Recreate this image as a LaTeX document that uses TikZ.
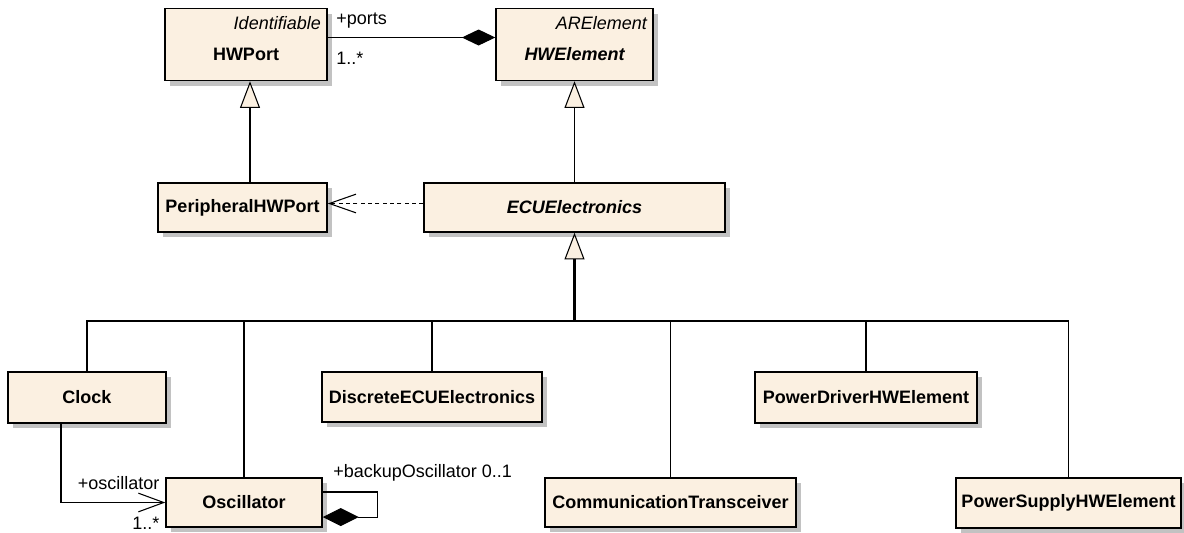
\documentclass[tikz,border=0pt]{standalone}
\usepackage{fontspec}
\setmainfont{Liberation Sans}
\usetikzlibrary{positioning, arrows.meta, shadows}

\definecolor{classfill}{HTML}{FBF0E1}

\begin{document}
\begin{tikzpicture}[
  x=0.75pt, y=-0.75pt,
  font=\fontsize{13.5}{15}\selectfont,
  classbox/.style={draw=black, line width=1.1pt, fill=classfill, inner sep=3pt,
    font=\fontsize{13.5}{15}\selectfont\bfseries,
    drop shadow={shadow xshift=3.75pt, shadow yshift=-3.75pt, fill=black!24, opacity=1}},
  withstereo/.style={text height=24pt, text depth=0pt},
  stereo/.style={anchor=north east, font=\fontsize{13.5}{15}\selectfont\itshape,
    inner xsep=5pt, inner ysep=6pt},
  role/.style={font=\fontsize{13.5}{15}\selectfont, inner sep=2pt},
  tree/.style={draw=black, line width=0.8pt},
  generalize/.style={tree, -{Triangle[length=20pt, width=15pt, fill=classfill, line width=0.8pt]}},
  compose/.style={tree, {Diamond[length=25pt, width=12pt]}-},
  navigate/.style={tree, -{Straight Barb[length=19pt, width=14pt]}},
  depend/.style={tree, dash pattern=on 3pt off 2.5pt, -{Straight Barb[length=20pt, width=14pt]}}
]
\useasboundingbox (0,0) rectangle (1184,532);

% --- top row: ports and elements ---
\node[classbox, withstereo, minimum width=121.5pt, minimum height=54pt] (hwport) at (246,44.5) {HWPort};
\node[stereo] (hwport-st) at (hwport.north east) {Identifiable};
\node[classbox, withstereo, minimum width=117.75pt, minimum height=54pt] (hwelement) at (574.5,44.5) {\itshape HWElement};
\node[stereo] (hwelement-st) at (hwelement.north east) {ARElement};

% --- middle row ---
\node[classbox, minimum width=126.75pt, minimum height=36.75pt] (peripheral) at (242.5,207.5) {PeripheralHWPort};
\node[classbox, minimum width=225.75pt, minimum height=36.75pt] (ecu) at (574.5,207.5) {\itshape ECUElectronics};

% --- specialisations of ECUElectronics ---
\node[classbox, minimum width=118.5pt, minimum height=38.25pt] (clock) at (87,397.5) {Clock};
\node[classbox, minimum width=165pt, minimum height=37.5pt] (discrete) at (432,397) {DiscreteECUElectronics};
\node[classbox, minimum width=166.5pt, minimum height=38.25pt] (pdrv) at (866,397.5) {PowerDriverHWElement};
\node[classbox, minimum width=117pt, minimum height=36.75pt] (osc) at (244,502.5) {Oscillator};
\node[classbox, minimum width=188.25pt, minimum height=36.75pt] (comm) at (670.5,502.5) {CommunicationTransceiver};
\node[classbox, minimum width=168.75pt, minimum height=37.5pt] (psu) at (1068.5,503) {PowerSupplyHWElement};

% --- composition: element owns its ports ---
\draw[compose] ([yshift=5.25pt]hwelement.west) -- ([yshift=5.25pt]hwport.east)
  node[role, pos=1, anchor=base west, xshift=4pt, yshift=9.4pt] {+ports}
  node[role, pos=1, anchor=base west, xshift=4pt, yshift=-20.6pt] {1..*};

% --- inheritance ---
\draw[generalize] ([xshift=3pt]hwport.south |- peripheral.north) -- ([xshift=3pt]hwport.south);
\draw[generalize] (ecu.north) -- (hwelement.south);
\draw[depend] ([yshift=3pt]ecu.west) -- ([yshift=3pt]peripheral.east);

% the tree below ECUElectronics
\coordinate (bus) at (574.5,321);
\draw[generalize, line width=1.6pt] (bus) -- (ecu.south);
\draw[tree] (clock.north) |- (psu.north |- bus) -- (psu.north);
\foreach \n in {osc, discrete, comm, pdrv}
  \draw[tree] (\n.north) -- (\n.north |- bus);

% --- oscillator associations ---
\draw[navigate] ([xshift=-19.5pt]clock.south) |- (osc.west)
  node[role, pos=1, anchor=base east, xshift=-2pt, yshift=9.4pt] {+oscillator}
  node[role, pos=1, anchor=base east, xshift=-2pt, yshift=-20.6pt] {1..*};
\draw[compose, {Diamond[length=27pt, width=13.5pt]}-] ([yshift=-10.9pt]osc.east) -- ++(55,0) |- ([yshift=7.9pt]osc.east)
  node[role, pos=1, anchor=base west, xshift=5.5pt, yshift=10.5pt] {+backupOscillator 0..1};

\end{tikzpicture}
\end{document}
